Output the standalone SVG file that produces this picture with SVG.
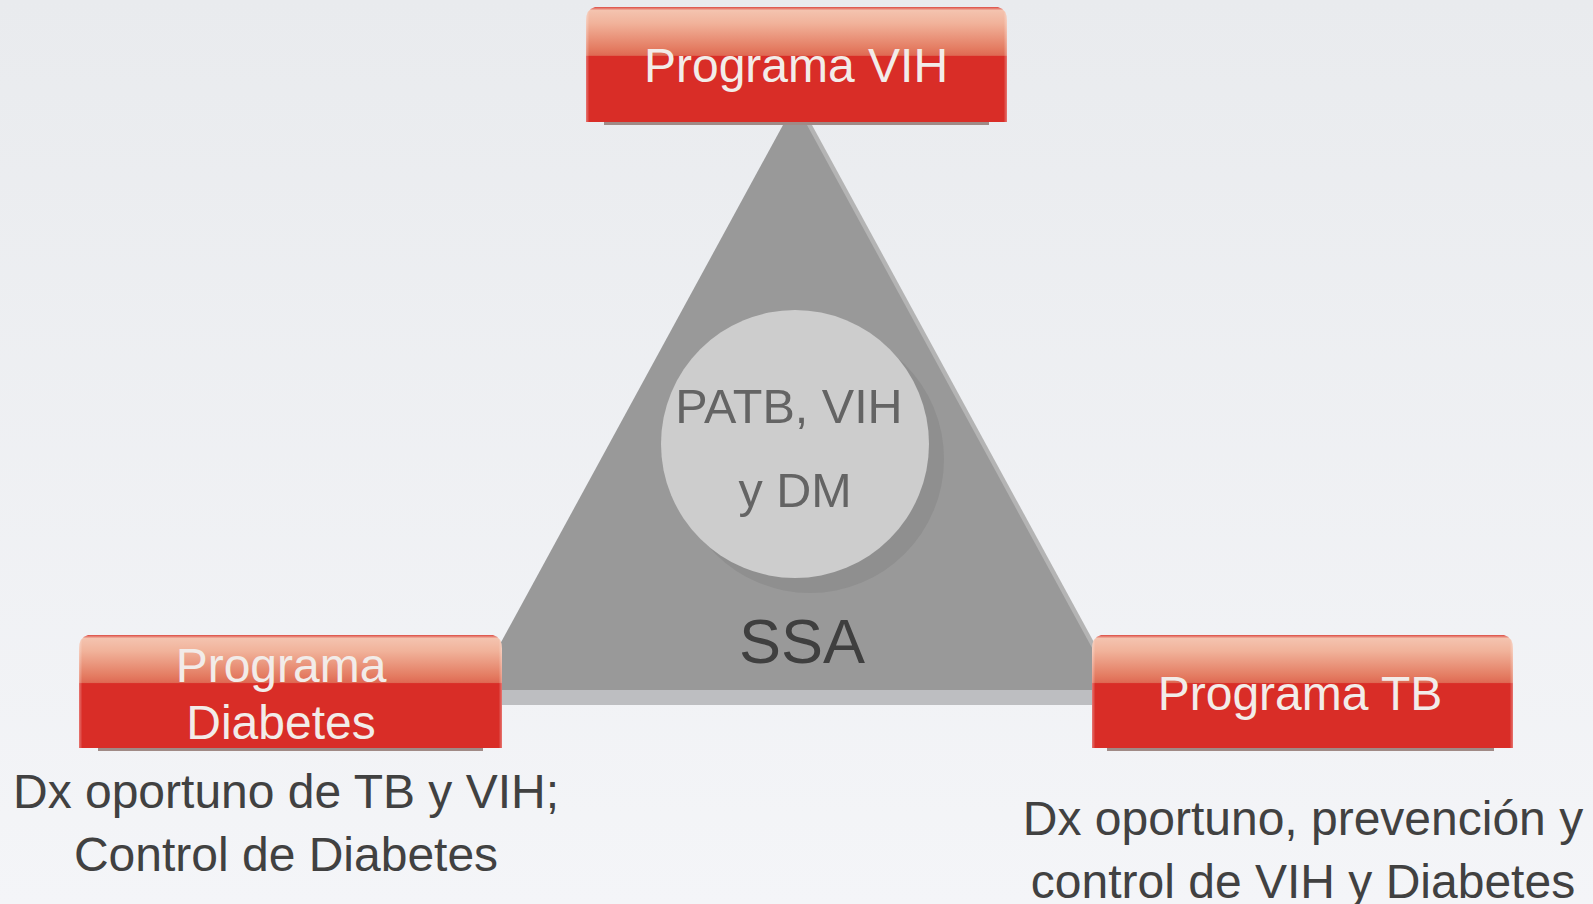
<svg xmlns="http://www.w3.org/2000/svg" width="1593" height="904" viewBox="0 0 1593 904">
  <defs>
    <linearGradient id="bg" x1="0" y1="0" x2="0" y2="1">
      <stop offset="0" stop-color="#e9ebee"/>
      <stop offset="1" stop-color="#f4f5f8"/>
    </linearGradient>
    <linearGradient id="boxFill" x1="0" y1="0" x2="0" y2="1">
      <stop offset="0" stop-color="#dc4a42"/>
      <stop offset="0.03" stop-color="#f4c3af"/>
      <stop offset="0.14" stop-color="#f1b39b"/>
      <stop offset="0.36" stop-color="#e47c62"/>
      <stop offset="0.42" stop-color="#df6a54"/>
      <stop offset="0.43" stop-color="#d92d27"/>
      <stop offset="1" stop-color="#d92d27"/>
    </linearGradient>
    <linearGradient id="edgeFade" x1="0" y1="0" x2="1" y2="0">
      <stop offset="0" stop-color="#ffffff" stop-opacity="0.35"/>
      <stop offset="0.008" stop-color="#ffffff" stop-opacity="0"/>
      <stop offset="0.992" stop-color="#ffffff" stop-opacity="0"/>
      <stop offset="1" stop-color="#ffffff" stop-opacity="0.35"/>
    </linearGradient>
  </defs>
  <style>
    .box { fill: url(#boxFill); }
    .edge { fill: url(#edgeFade); }
    .boxShadow { fill: #a08a86; }
    .boxText { font-family: "Liberation Sans", Arial, sans-serif; font-size: 48px; fill: #f2ece9; text-anchor: middle; }
    .note { font-family: "Liberation Sans", Arial, sans-serif; font-size: 48px; fill: #414141; text-anchor: middle; }
    .circText { font-family: "Liberation Sans", Arial, sans-serif; font-size: 48.5px; fill: #646464; text-anchor: middle; }
    .ssa { font-family: "Liberation Sans", Arial, sans-serif; font-size: 63px; fill: #3f3f3f; text-anchor: middle; }
  </style>

  <rect x="0" y="0" width="1593" height="904" fill="url(#bg)"/>

  <g id="ssa-triangle">
    <polygon points="800,103 480,690 1120,690" fill="#b4b4b4"/>
    <polygon points="795,103 475,690 1115,690" fill="#999999"/>
    <rect x="480" y="690" width="635" height="15" fill="#bdbec1"/>
    <text class="ssa" x="802" y="663">SSA</text>
  </g>

  <g id="centro">
    <circle cx="810" cy="459" r="134" fill="#8f8f8f"/>
    <circle cx="795" cy="444" r="134" fill="#cdcdcd"/>
    <text class="circText" x="789" y="423">PATB, VIH</text>
    <text class="circText" x="795" y="507">y DM</text>
  </g>

  <g id="connectors"></g>

  <g id="programa-vih">
    <rect class="boxShadow" x="604" y="121" width="385" height="4"/>
    <path class="box" d="M586,21 Q586,9 595,7 H998 Q1007,9 1007,21 V122 H586 Z"/>
    <path class="edge" d="M586,21 Q586,9 595,7 H998 Q1007,9 1007,21 V122 H586 Z"/>
    <text class="boxText" x="796" y="82">Programa VIH</text>
  </g>

  <g id="programa-diabetes">
    <rect class="boxShadow" x="98" y="747" width="385" height="4"/>
    <path class="box" d="M79,649 Q79,637 88,635 H493 Q502,637 502,649 V748 H79 Z"/>
    <path class="edge" d="M79,649 Q79,637 88,635 H493 Q502,637 502,649 V748 H79 Z"/>
    <text class="boxText" x="281" y="682">Programa</text>
    <text class="boxText" x="281" y="739">Diabetes</text>
  </g>

  <g id="programa-tb">
    <rect class="boxShadow" x="1107" y="747" width="387" height="4"/>
    <path class="box" d="M1092,649 Q1092,637 1101,635 H1504 Q1513,637 1513,649 V748 H1092 Z"/>
    <path class="edge" d="M1092,649 Q1092,637 1101,635 H1504 Q1513,637 1513,649 V748 H1092 Z"/>
    <text class="boxText" x="1300" y="710">Programa TB</text>
  </g>

  <g id="nota-diabetes">
    <text class="note" x="286" y="808">Dx oportuno de TB y VIH;</text>
    <text class="note" x="286" y="871">Control de Diabetes</text>
  </g>

  <g id="nota-tb">
    <text class="note" x="1303" y="835">Dx oportuno, prevención y</text>
    <text class="note" x="1303" y="898">control de VIH y Diabetes</text>
  </g>
</svg>
